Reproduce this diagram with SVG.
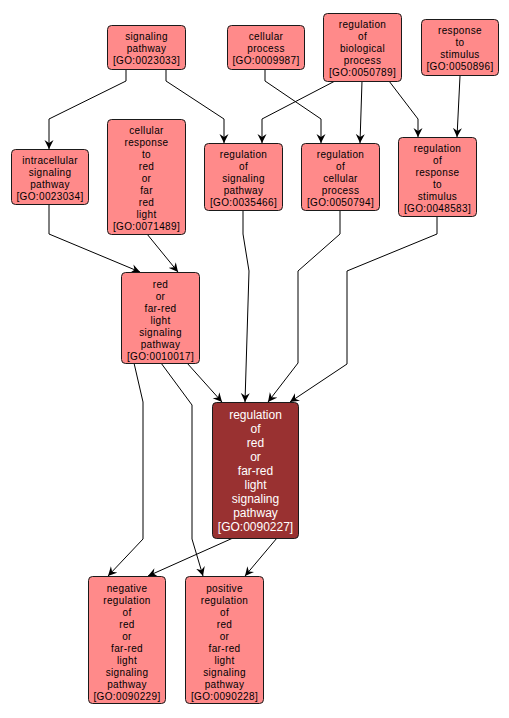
<svg xmlns="http://www.w3.org/2000/svg" width="509" height="718" viewBox="0 0 509 718">
<defs>
<style>
.n rect{fill:#ff8a8a;stroke:#1a1a1a;stroke-width:1}
.n text{font-family:"Liberation Sans",Arial,sans-serif;font-size:10px;letter-spacing:0.35px;fill:#000;text-anchor:middle}
.d rect{fill:#993131;stroke:#1a1a1a;stroke-width:1}
.d text{font-family:"Liberation Sans",Arial,sans-serif;font-size:12px;fill:#fff;text-anchor:middle}
.e path{fill:none;stroke:#000;stroke-width:1;marker-end:url(#a)}
</style>
<marker id="a" markerUnits="userSpaceOnUse" markerWidth="10" markerHeight="10" viewBox="0 0 10 10" refX="9" refY="5" orient="auto">
<path d="M9,5 L0,0.5 L3,5 L0,9.5 z" fill="#000"/>
</marker>
</defs>
<rect width="509" height="718" fill="#fff"/>
<g id="edges" class="e">
<path d="M126,69 V81 L49,119 V149"/>
<path d="M166,69 V81 L224,119 V143"/>
<path d="M265,69 V81 L321,119 V143"/>
<path d="M335,81 L262,119 V143"/>
<path d="M362,81 L360,143"/>
<path d="M389,81 L418,119 V137"/>
<path d="M460,76 L457,137"/>
<path d="M49,204 V234 L140,272"/>
<path d="M147,234 L178,272"/>
<path d="M243,210 V234 L249,271 L245,402"/>
<path d="M340,211 V234 L298,271 V363 L268,402"/>
<path d="M437,216 V234 L347,271 V364 L290,402"/>
<path d="M187,363 L222,402"/>
<path d="M134,363 L143,402 V539 L108,576"/>
<path d="M161,363 L192,405 V539 L203,576"/>
<path d="M233,538 L148,576"/>
<path d="M277,538 L245,576"/>
</g>
<g id="n0023033" class="n"><rect x="107.5" y="25.5" width="78" height="44" rx="4"/>
<text x="146.5" y="40">signaling</text><text x="146.5" y="52">pathway</text><text x="146.5" y="64">[GO:0023033]</text></g>
<g id="n0009987" class="n"><rect x="227.5" y="25.5" width="77" height="44" rx="4"/>
<text x="266" y="40">cellular</text><text x="266" y="52">process</text><text x="266" y="64">[GO:0009987]</text></g>
<g id="n0050789" class="n"><rect x="323.5" y="13.5" width="78" height="68" rx="4"/>
<text x="362.5" y="28">regulation</text><text x="362.5" y="40">of</text><text x="362.5" y="52">biological</text><text x="362.5" y="64">process</text><text x="362.5" y="76">[GO:0050789]</text></g>
<g id="n0050896" class="n"><rect x="421.5" y="19.5" width="77" height="56" rx="4"/>
<text x="460" y="34">response</text><text x="460" y="46">to</text><text x="460" y="58">stimulus</text><text x="460" y="70">[GO:0050896]</text></g>
<g id="n0023034" class="n"><rect x="11.5" y="149.5" width="77" height="55" rx="4"/>
<text x="50" y="164">intracellular</text><text x="50" y="176">signaling</text><text x="50" y="188">pathway</text><text x="50" y="200">[GO:0023034]</text></g>
<g id="n0071489" class="n"><rect x="107.5" y="119.5" width="78" height="115" rx="4"/>
<text x="146.5" y="134">cellular</text><text x="146.5" y="146">response</text><text x="146.5" y="158">to</text><text x="146.5" y="170">red</text><text x="146.5" y="182">or</text><text x="146.5" y="194">far</text><text x="146.5" y="206">red</text><text x="146.5" y="218">light</text><text x="146.5" y="230">[GO:0071489]</text></g>
<g id="n0035466" class="n"><rect x="204.5" y="143.5" width="78" height="67" rx="4"/>
<text x="243.5" y="158">regulation</text><text x="243.5" y="170">of</text><text x="243.5" y="182">signaling</text><text x="243.5" y="194">pathway</text><text x="243.5" y="206">[GO:0035466]</text></g>
<g id="n0050794" class="n"><rect x="301.5" y="143.5" width="78" height="67" rx="4"/>
<text x="340.5" y="158">regulation</text><text x="340.5" y="170">of</text><text x="340.5" y="182">cellular</text><text x="340.5" y="194">process</text><text x="340.5" y="206">[GO:0050794]</text></g>
<g id="n0048583" class="n"><rect x="398.5" y="137.5" width="78" height="79" rx="4"/>
<text x="437.5" y="152">regulation</text><text x="437.5" y="164">of</text><text x="437.5" y="176">response</text><text x="437.5" y="188">to</text><text x="437.5" y="200">stimulus</text><text x="437.5" y="212">[GO:0048583]</text></g>
<g id="n0010017" class="n"><rect x="121.5" y="272.5" width="78" height="91" rx="4"/>
<text x="160.5" y="288">red</text><text x="160.5" y="300">or</text><text x="160.5" y="312">far-red</text><text x="160.5" y="324">light</text><text x="160.5" y="336">signaling</text><text x="160.5" y="348">pathway</text><text x="160.5" y="360">[GO:0010017]</text></g>
<g id="n0090227" class="d"><rect x="212.5" y="402.5" width="86" height="136" rx="4"/>
<text x="255.5" y="418.5">regulation</text><text x="255.5" y="432.5">of</text><text x="255.5" y="446.5">red</text><text x="255.5" y="460.5">or</text><text x="255.5" y="474.5">far-red</text><text x="255.5" y="488.5">light</text><text x="255.5" y="502.5">signaling</text><text x="255.5" y="516.5">pathway</text><text x="255.5" y="530.5">[GO:0090227]</text></g>
<g id="n0090229" class="n"><rect x="88.5" y="576.5" width="77" height="127" rx="4"/>
<text x="127" y="592">negative</text><text x="127" y="604">regulation</text><text x="127" y="616">of</text><text x="127" y="628">red</text><text x="127" y="640">or</text><text x="127" y="652">far-red</text><text x="127" y="664">light</text><text x="127" y="676">signaling</text><text x="127" y="688">pathway</text><text x="127" y="700">[GO:0090229]</text></g>
<g id="n0090228" class="n"><rect x="185.5" y="576.5" width="78" height="127" rx="4"/>
<text x="224.5" y="592">positive</text><text x="224.5" y="604">regulation</text><text x="224.5" y="616">of</text><text x="224.5" y="628">red</text><text x="224.5" y="640">or</text><text x="224.5" y="652">far-red</text><text x="224.5" y="664">light</text><text x="224.5" y="676">signaling</text><text x="224.5" y="688">pathway</text><text x="224.5" y="700">[GO:0090228]</text></g>
</svg>
